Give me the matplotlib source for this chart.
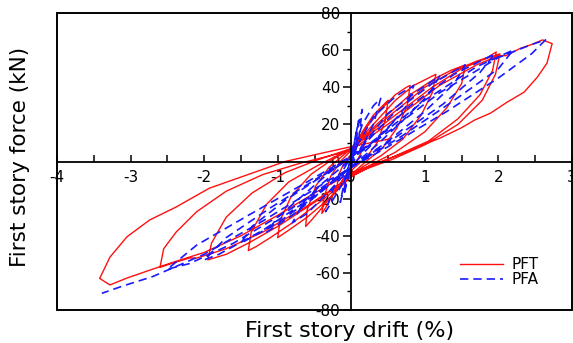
import matplotlib.pyplot as plt
from matplotlib.patches import Rectangle
from matplotlib.ticker import MultipleLocator

# PFT 试验曲线 (drift %, force kN)
pft_x = [0, 0.08, 0.15, 0.2, 0.17, 0.1, 0.05, -0.05, -0.15, -0.2, -0.17, -0.1, 0,
         0.15, 0.3, 0.45, 0.5, 0.46, 0.35, 0.2, 0.05, -0.1, -0.25, -0.35, -0.4, -0.37, -0.28, -0.15, 0,
         0.2, 0.4, 0.6, 0.75, 0.8, 0.76, 0.62, 0.42, 0.2, 0, -0.2, -0.4, -0.55, -0.62, -0.6, -0.48, -0.3, 0,
         0.3, 0.6, 0.85, 1.05, 1.15, 1.1, 0.95, 0.7, 0.4, 0.15, 0, -0.3, -0.6, -0.85, -1.0, -0.97, -0.82, -0.55, -0.3, 0,
         0.4, 0.8, 1.15, 1.35, 1.48, 1.55, 1.5, 1.3, 1.0, 0.6, 0.3, 0, -0.4, -0.8, -1.1, -1.3, -1.4, -1.36, -1.15, -0.85, -0.45, 0,
         0.5, 1.0, 1.4, 1.7, 1.85, 1.97, 1.92, 1.75, 1.45, 1.05, 0.6, 0.3, 0, -0.5, -1.0, -1.4, -1.7, -1.95, -1.9, -1.7, -1.35, -0.9, -0.45, 0,
         0.6, 1.1, 1.5, 1.8, 2.02, 1.96, 1.78, 1.45, 1.0, 0.55, 0.2, 0, -0.6, -1.2, -1.7, -2.1, -2.2, -2.45, -2.6, -2.55, -2.38, -2.1, -1.7, -1.2, -0.7, 0,
         0.6, 1.2, 1.7, 2.0, 2.1, 2.3, 2.45, 2.6, 2.73, 2.66, 2.53, 2.35, 2.12, 1.89, 1.68, 1.49, 1.2, 0.9, 0.64, 0.36, 0,
         -0.5, -1.0, -1.5, -2.0, -2.4, -2.7, -3.05, -3.28, -3.42, -3.28, -3.05, -2.74, -2.38, -1.93, -1.4, -0.9, -0.4, 0, 0.5]
pft_y = [0, 9, 14, 16, 8, 2, -1, -6, -12, -15, -7, -1, 4,
         16, 25, 31, 33, 22, 10, 2, -3, -9, -18, -25, -28, -19, -8, 0, 6,
         18, 28, 36, 40, 41, 30, 18, 7, 0, -7, -15, -25, -32, -35, -26, -13, -3, 7,
         20, 33, 41, 45, 47, 37, 25, 12, 3, -3, -8, -20, -30, -37, -41, -32, -19, -7, 0, 7,
         22, 36, 45, 49, 51, 52, 42, 29, 16, 5, -1, -8, -21, -33, -41, -46, -48, -38, -23, -11, -2, 7,
         24, 40, 49, 54, 56, 59, 49, 36, 23, 11, 3, -2, -8, -22, -35, -44, -50, -53, -44, -30, -17, -6, 1, 7,
         25, 40, 50, 55, 58, 47, 33, 20, 9, 1, -4, -8, -24, -38, -47, -52, -52, -55, -57, -47, -38, -27, -16, -7, -1, 6,
         23, 41, 52, 57, 57, 61, 63, 65.5, 63.5, 53, 45.5, 37.4, 32, 26, 22.4, 18, 12.5, 7.8, 3.5, -0.8, -6,
         -17, -29, -40, -49, -54, -58, -62.8, -66.5, -63, -51.5, -40.6, -31.5, -24.5, -14.4, -7, 0, 4.5, 8, 12]

# PFA 分析曲线
pfa_x = [0, 0.05, 0.1, 0.06, 0, -0.05, -0.1, -0.05, 0,
         0.08, 0.15, 0.1, 0.02, -0.08, -0.15, -0.08, 0,
         0.15, 0.3, 0.4, 0.3, 0.15, 0, -0.15, -0.3, -0.35, -0.25, -0.1, 0,
         0.3, 0.6, 0.85, 0.75, 0.5, 0.2, 0, -0.3, -0.6, -0.8, -0.65, -0.4, -0.1, 0.1,
         0.5, 0.9, 1.2, 1.05, 0.7, 0.35, 0, -0.4, -0.8, -1.15, -1.0, -0.65, -0.3, 0.1,
         0.6, 1.1, 1.55, 1.4, 1.0, 0.5, 0, -0.5, -1.0, -1.5, -1.35, -0.9, -0.4, 0.2,
         0.8, 1.4, 1.95, 1.75, 1.25, 0.6, 0, -0.6, -1.2, -1.8, -2.0, -1.7, -1.1, -0.5, 0.2,
         1.0, 1.7, 2.2, 2.0, 1.4, 0.7, 0, -0.8, -1.6, -2.2, -2.5, -2.1, -1.4, -0.6, 0.3,
         1.2, 2.0, 2.45, 2.64, 2.45, 2.0, 1.3, 0.5, -0.3, -1.2, -2.0, -2.7, -3.1, -3.39]
pfa_y = [0, 12, 22, 8, -2, -10, -18, -6, 3,
         18, 28, 12, 0, -12, -22, -8, 2,
         20, 30, 34, 20, 8, -2, -14, -24, -27, -15, -4, 3,
         24, 35, 41, 30, 18, 6, -3, -16, -28, -33, -22, -12, -2, 6,
         26, 38, 46, 36, 22, 9, -3, -16, -29, -38, -30, -18, -6, 6,
         27, 42, 52, 42, 27, 11, -3, -19, -33, -44, -35, -21, -8, 7,
         30, 47, 58, 48, 31, 13, -3, -21, -37, -50, -53, -41, -25, -10, 8,
         33, 51, 60, 50, 33, 14, -3, -25, -44, -55, -58, -45, -29, -11, 10,
         37, 56, 63, 65.5, 58, 45, 27, 8, -10, -32, -50, -62, -67, -71]

x_ticks = [-4, -3, -2, -1, 0, 1, 2, 3]
y_ticks = [-80, -60, -40, -20, 0, 20, 40, 60, 80]

plt.rcParams['font.family'] = ['DejaVu Sans']

fig = plt.figure(figsize=(5.73, 3.43), dpi=100)
ax = fig.add_axes([57 / 573, 1 - 310 / 343, 515 / 573, 297 / 343])

ax.plot(pft_x, pft_y, color='#ff1010', lw=1.0, label='PFT', zorder=2)
ax.plot(pfa_x, pfa_y, color='#1a1aff', lw=1.2, ls=(0, (5, 3)), label='PFA', zorder=2)

ax.set_xlim(-4, 3)
ax.set_ylim(-80, 80)

# 坐标轴移到原点
ax.spines['left'].set_position(('data', 0))
ax.spines['bottom'].set_position(('data', 0))
ax.spines['top'].set_visible(False)
ax.spines['right'].set_visible(False)
for s in ['left', 'bottom']:
    ax.spines[s].set_linewidth(1.3)
    ax.spines[s].set_zorder(3)

# 外框
ax.add_patch(Rectangle((0, 0), 1, 1, transform=ax.transAxes, fill=False,
                       lw=1.4, ec='black', clip_on=False, zorder=3))

ax.set_xticks(x_ticks)
ax.set_yticks(y_ticks)
ax.set_xticklabels([str(v) for v in x_ticks])
ax.set_yticklabels([str(v) for v in y_ticks])
ax.xaxis.set_minor_locator(MultipleLocator(0.5))
ax.yaxis.set_minor_locator(MultipleLocator(10))
ax.tick_params(axis='x', which='both', direction='in', length=5, width=1.1, labelsize=11, pad=6)
ax.tick_params(axis='y', which='major', direction='out', length=6, width=1.1, labelsize=11, pad=2)
ax.tick_params(axis='y', which='minor', direction='out', length=3, width=1.0)

fig.text(350 / 573, 1 - 331 / 343, 'First story drift (%)', fontsize=16,
         ha='center', va='center')
fig.text(20 / 573, 1 - 157 / 343, 'First story force (kN)', fontsize=15.5,
         ha='center', va='center', rotation=90)

ax.legend(loc='lower right', bbox_to_anchor=((539 - 57) / 515, (310 - 287) / 297),
          borderaxespad=0, borderpad=0, frameon=False,
          fontsize=11, handlelength=2.8, labelspacing=0.0, handletextpad=0.6)

plt.savefig('out.png', dpi=100)
